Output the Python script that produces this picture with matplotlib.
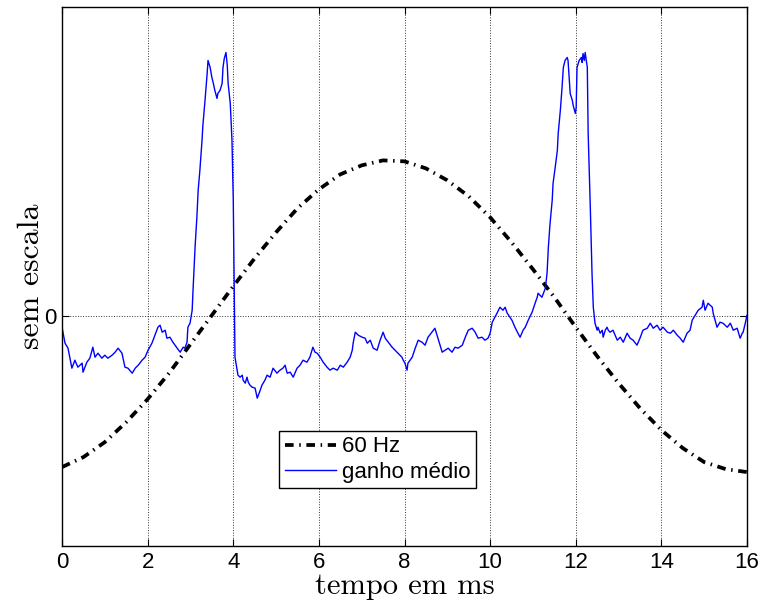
import matplotlib
matplotlib.use("Agg")
import matplotlib.pyplot as plt

# 60 Hz reference, read every 0.5 ms
t_60hz = [0.0, 0.5, 1.0, 1.5, 2.0, 2.5, 3.0, 3.5, 4.0, 4.5, 5.0, 5.5, 6.0, 6.5, 7.0, 7.5,
          8.0, 8.5, 9.0, 9.5, 10.0, 10.5, 11.0, 11.5, 12.0, 12.5, 13.0, 13.5, 14.0, 14.5,
          15.0, 15.5, 16.0]
y_60hz = [-151, -141, -126, -106, -83, -57, -28, 1, 30, 58, 84, 108, 127, 142, 151, 156,
          155, 148, 136, 120, 99, 74, 47, 19, -11, -40, -67, -92, -114, -132,
          -146, -153, -156]

# ganho medio (mean gain)
t_ganho = [0.00, 0.07, 0.14, 0.23, 0.30, 0.37, 0.47, 0.49, 0.58, 0.65, 0.72, 0.77, 0.84, 0.93,
           1.00, 1.07, 1.17, 1.24, 1.31, 1.40, 1.47, 1.54, 1.64, 1.71, 1.78, 1.87, 1.94, 2.01,
           2.10, 2.17, 2.24, 2.29, 2.34, 2.41, 2.45, 2.52, 2.59, 2.69, 2.76, 2.83, 2.87, 2.92,
           2.94, 2.99, 3.04, 3.06, 3.11, 3.15, 3.18, 3.22, 3.27, 3.29, 3.34, 3.39, 3.41, 3.46,
           3.50, 3.53, 3.57, 3.62, 3.64, 3.69, 3.74, 3.76, 3.79, 3.83, 3.86, 3.88, 3.93, 3.97,
           4.00, 4.02, 4.03, 4.04, 4.09, 4.11, 4.16, 4.21, 4.23, 4.28, 4.32, 4.35, 4.39, 4.44,
           4.51, 4.56, 4.63, 4.67, 4.74, 4.79, 4.86, 4.93, 5.02, 5.09, 5.16, 5.21, 5.26, 5.33,
           5.40, 5.49, 5.56, 5.63, 5.72, 5.79, 5.86, 5.91, 5.96, 6.03, 6.10, 6.19, 6.26, 6.33,
           6.43, 6.50, 6.57, 6.66, 6.73, 6.78, 6.80, 6.85, 6.92, 7.01, 7.08, 7.13, 7.20, 7.27,
           7.36, 7.43, 7.50, 7.55, 7.62, 7.71, 7.78, 7.85, 7.94, 7.97, 8.01, 8.06, 8.08, 8.18,
           8.25, 8.32, 8.41, 8.48, 8.55, 8.64, 8.71, 8.78, 8.88, 8.95, 9.02, 9.11, 9.18, 9.25,
           9.35, 9.42, 9.49, 9.58, 9.65, 9.72, 9.81, 9.88, 9.95, 10.00, 10.05, 10.16, 10.23,
           10.30, 10.35, 10.40, 10.51, 10.58, 10.65, 10.70, 10.77, 10.82, 10.89, 10.98, 11.05,
           11.10, 11.12, 11.21, 11.29, 11.33, 11.36, 11.40, 11.45, 11.47, 11.52, 11.57, 11.59,
           11.64, 11.68, 11.71, 11.75, 11.80, 11.82, 11.87, 11.92, 11.94, 11.99, 12.01, 12.03,
           12.08, 12.13, 12.15, 12.17, 12.20, 12.22, 12.27, 12.29, 12.34, 12.38, 12.41, 12.45,
           12.50, 12.52, 12.57, 12.62, 12.64, 12.69, 12.73, 12.76, 12.80, 12.87, 12.97, 13.04,
           13.11, 13.20, 13.27, 13.34, 13.43, 13.50, 13.57, 13.67, 13.74, 13.81, 13.90, 13.97,
           14.04, 14.14, 14.21, 14.28, 14.37, 14.44, 14.51, 14.60, 14.67, 14.72, 14.79, 14.86,
           14.95, 14.98, 15.02, 15.09, 15.19, 15.21, 15.30, 15.37, 15.44, 15.54, 15.61, 15.68,
           15.77, 15.84, 15.89, 15.91, 15.96, 16.00]
y_ganho = [-11, -27, -32, -52, -44, -51, -47, -56, -46, -42, -31, -41, -37, -42,
           -39, -42, -39, -36, -32, -37, -51, -52, -57, -52, -49, -44, -41, -34,
           -27, -19, -11, -9, -16, -14, -22, -21, -26, -32, -36, -31, -32, -26,
           -11, -7, 6, 26, 71, 99, 126, 146, 176, 191, 216, 243, 256, 249,
           239, 234, 226, 218, 223, 226, 233, 249, 258, 264, 251, 233, 213, 176,
           116, 33, -7, -41, -54, -59, -61, -59, -64, -67, -61, -66, -69, -71,
           -72, -82, -74, -69, -64, -59, -61, -52, -57, -54, -52, -49, -57, -56,
           -61, -52, -49, -44, -46, -41, -31, -36, -37, -41, -46, -51, -54, -52,
           -54, -49, -51, -46, -41, -34, -27, -16, -19, -21, -22, -27, -24, -32,
           -34, -24, -16, -22, -26, -31, -34, -37, -41, -44, -47, -54, -47, -41,
           -32, -24, -26, -29, -21, -16, -12, -22, -36, -34, -32, -36, -31, -32,
           -29, -21, -14, -12, -16, -22, -21, -24, -22, -17, -6, 3, 9,
           6, 9, 3, -4, -11, -17, -21, -14, -11, -4, 4, 13,
           19, 23, 19, 28, 43, 69, 93, 116, 133, 149, 166, 183,
           206, 229, 249, 256, 259, 256, 223, 216, 211, 203, 209, 249,
           256, 259, 254, 263, 256, 264, 249, 183, 109, 43, 9, -7,
           -14, -11, -17, -14, -21, -14, -11, -14, -16, -14, -24, -21,
           -26, -17, -22, -24, -29, -22, -14, -12, -7, -12, -9, -14,
           -11, -16, -17, -14, -19, -22, -26, -17, -14, -4, 1, 6,
           9, 16, 6, 13, 9, 3, -11, -6, -7, -11, -7, -14,
           -12, -22, -17, -16, -7, 1]

x_ticks = [0, 2, 4, 6, 8, 10, 12, 14, 16]

plt.rcParams['font.family'] = ['Liberation Sans', 'DejaVu Sans']
label_font = "cmr10"

fig = plt.figure(figsize=(7.62, 6.03), dpi=100)
ax = fig.add_axes([0.0814, 0.0945, 0.8989, 0.8947])

ax.plot(t_60hz, y_60hz, color="k", lw=2.7, ls=(0, (2.3, 1.5, 0.4, 1.5)), label="60 Hz")
ax.plot(t_ganho, y_ganho, color=(0, 0, 1), lw=1.0, label="ganho médio")

ax.set_xlim(0, 16)
ax.set_ylim(-230, 310)
ax.set_xticks(x_ticks)
ax.set_yticks([0])
ax.grid(True, ls=":", color="k", lw=0.7, alpha=0.8)

ax.tick_params(direction="in", top=True, right=True, length=5, width=0.8,
               labelsize=16, pad=4)
for s in ax.spines.values():
    s.set_linewidth(1.0)

ax.set_xlabel("tempo em ms", fontfamily=label_font, fontsize=22, labelpad=0)
ax.set_ylabel("sem escala", fontfamily=label_font, fontsize=23, labelpad=-1)

leg = ax.legend(loc="center", bbox_to_anchor=(0.461, 0.160), prop={"size": 16},
                fancybox=False, edgecolor="k", framealpha=1, handlelength=2.3,
                borderpad=0.25, labelspacing=0.2, handletextpad=0.3, borderaxespad=0)
leg.get_frame().set_linewidth(1.0)

fig.savefig("out.png", dpi=100)
